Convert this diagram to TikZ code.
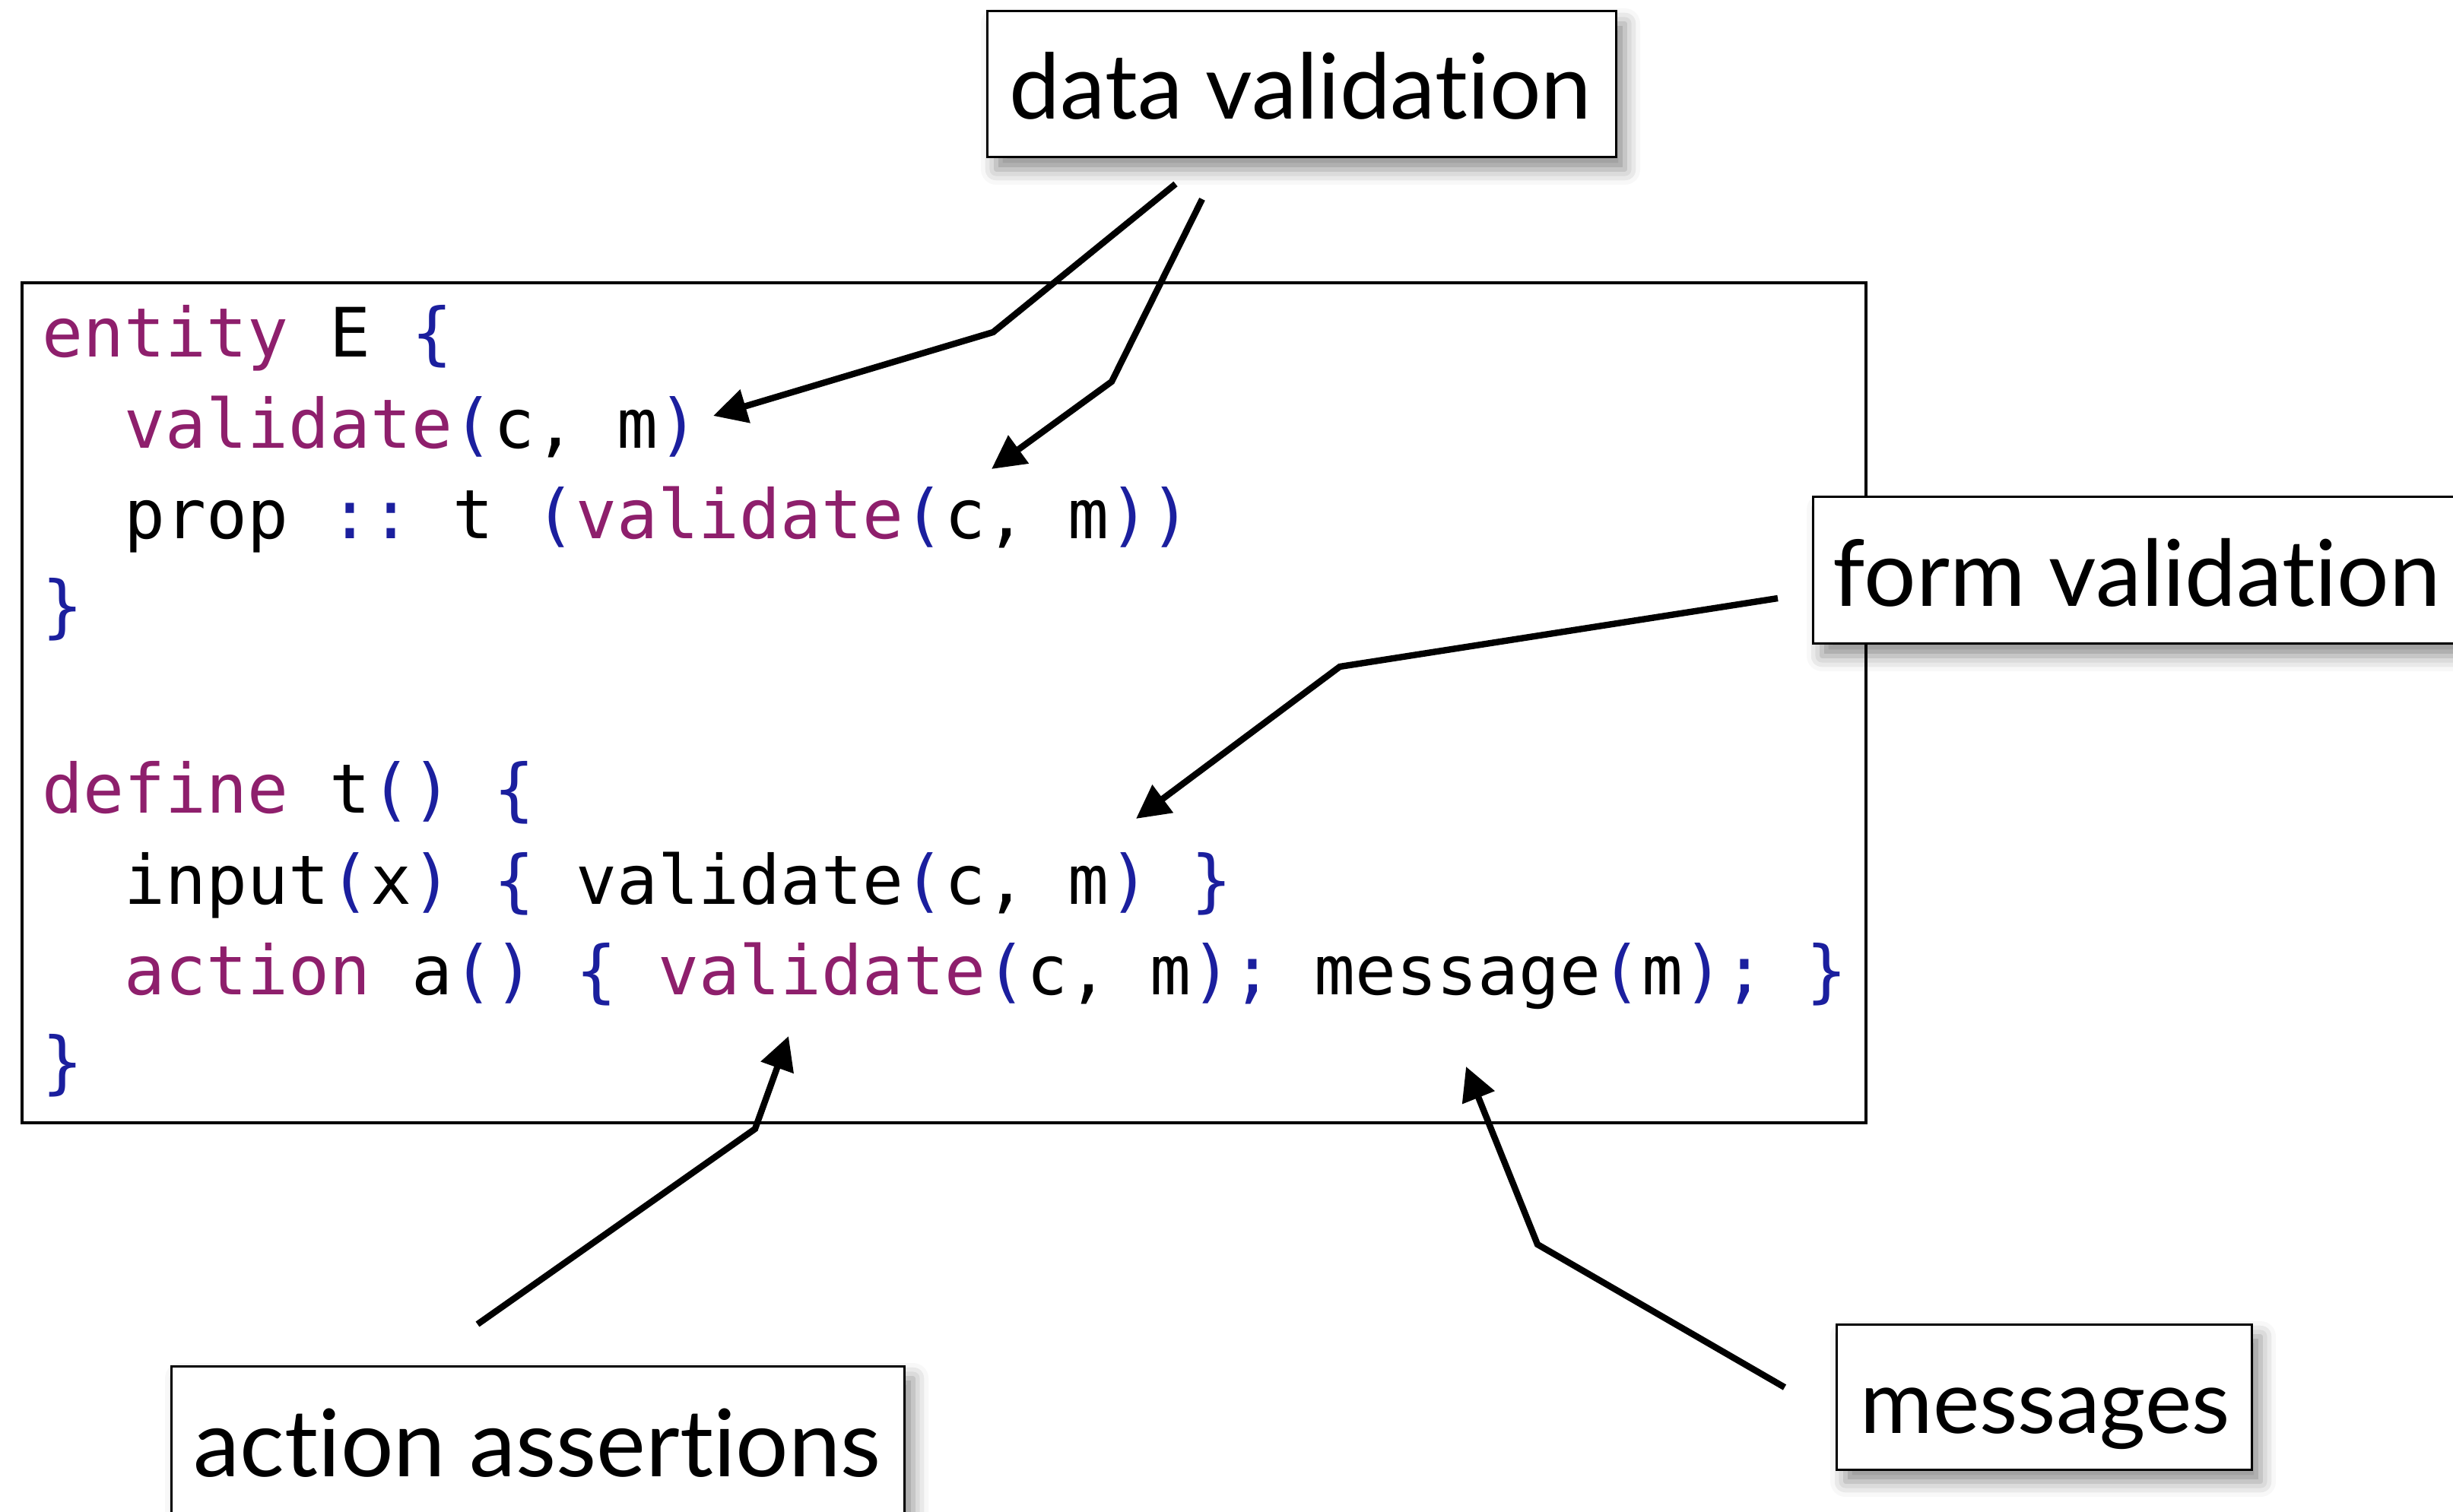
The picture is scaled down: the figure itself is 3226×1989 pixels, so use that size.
\documentclass[tikz,border=0pt]{standalone}
\usepackage{fontspec}
\setmonofont{DejaVu Sans Mono}
\newfontfamily\lblfont[Ligatures={NoCommon,NoRare,NoDiscretionary}]{Lato}
\usetikzlibrary{arrows.meta,shadows.blur}
\definecolor{kwpurple}{HTML}{8E1F6C}
\definecolor{brblue}{HTML}{1B1F9E}
\newcommand\kw[1]{\textcolor{kwpurple}{#1}}
\newcommand\bl[1]{\textcolor{brblue}{#1}}
\newcommand\lbltext[2]{\resizebox{#1}{!}{\lblfont #2}}
\begin{document}
\begin{tikzpicture}[x=0.25pt,y=-0.25pt,
  codeline/.style={anchor=base west, inner sep=0pt, font=\fontsize{22.4pt}{26pt}\selectfont\ttfamily},
  codebox/.style={draw=black, line width=1.1pt, rectangle, inner sep=0pt},
  lblbox/.style={draw=black, line width=0.75pt, fill=white, rectangle, inner sep=0pt,
    blur shadow={shadow xshift=3pt, shadow yshift=-4pt, shadow blur radius=5pt, shadow opacity=45}},
  lbltxt/.style={anchor=base west, inner sep=0pt},
  pointer/.style={draw=black, line width=2.1pt, line join=miter, -{Triangle[length=11pt,width=11pt]}}
]
\useasboundingbox (0,0) rectangle (3226,1989);
\clip (0,0) rectangle (3226,1989);

% code box
\node[codebox, minimum width=606.25pt, minimum height=276.25pt] (code) at (1241.5,924.5) {};

% code lines
\node[codeline] (l1) at (55,470)  {\kw{entity} E \bl{\{}};
\node[codeline] (l2) at (163,590) {\kw{validate}\bl{(}c, m\bl{)}};
\node[codeline] (l3) at (163,709) {prop \bl{::} t \bl{(}\kw{validate}\bl{(}c, m\bl{))}};
\node[codeline] (l4) at (55,829)  {\bl{\}}};
\node[codeline] (l6) at (55,1069) {\kw{define} t\bl{()} \bl{\{}};
\node[codeline] (l7) at (163,1189) {input\bl{(}x\bl{)} \bl{\{} validate\bl{(}c, m\bl{)} \bl{\}}};
\node[codeline] (l8) at (163,1308) {\kw{action} a\bl{()} \bl{\{} \kw{validate}\bl{(}c, m\bl{);} message\bl{(}m\bl{);} \bl{\}}};
\node[codeline] (l9) at (55,1428) {\bl{\}}};

% connector points
\coordinate (dvA1) at (1546,242);
\coordinate (dvB1) at (1306,437);
\coordinate (dvC1) at (938,547);
\coordinate (dvA2) at (1581,262);
\coordinate (dvB2) at (1462,502);
\coordinate (dvC2) at (1304,617);
\coordinate (fvA) at (2338,787);
\coordinate (fvB) at (1762,877);
\coordinate (fvC) at (1494,1077);
\coordinate (aaA) at (628,1742);
\coordinate (aaB) at (993,1485);
\coordinate (aaC) at (1037,1363);
\coordinate (msA) at (2347,1825);
\coordinate (msB) at (2022,1637);
\coordinate (msC) at (1928,1403);

\draw[pointer] (dvA1) -- (dvB1) -- (dvC1);
\draw[pointer] (dvA2) -- (dvB2) -- (dvC2);
\draw[pointer] (fvA) -- (fvB) -- (fvC);
\draw[pointer] (aaA) -- (aaB) -- (aaC);
\draw[pointer] (msA) -- (msB) -- (msC);

% label boxes
\node[lblbox, minimum width=206.75pt, minimum height=48pt] (dvbox) at (1711.5,111) {};
\node[lblbox, minimum width=214pt, minimum height=48.25pt] (fvbox) at (2812,750.5) {};
\node[lblbox, minimum width=241pt, minimum height=48.75pt] (aabox) at (707,1894.5) {};
\node[lblbox, minimum width=136.5pt, minimum height=47.75pt] (msbox) at (2688,1837.5) {};

% label texts
\node[lbltxt] (dvtxt) at (1327,157) {\lbltext{191.25pt}{data validation}};
\node[lbltxt] (fvtxt) at (2410,797) {\lbltext{199.75pt}{form validation}};
\node[lbltxt] (aatxt) at (254,1942) {\lbltext{226pt}{action assertions}};
\node[lbltxt] (mstxt) at (2446,1885) {\lbltext{121.5pt}{messages}};
\end{tikzpicture}
\end{document}
